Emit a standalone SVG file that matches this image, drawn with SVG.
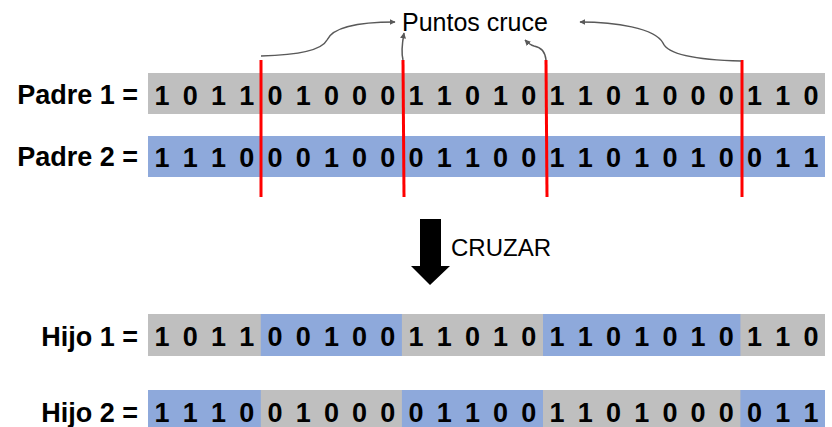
<svg xmlns="http://www.w3.org/2000/svg" width="832" height="427" viewBox="0 0 832 427">
<style>
.lbl{font-family:"Liberation Sans",Arial,sans-serif;font-weight:bold;font-size:27px;fill:#000;text-anchor:end}
.dig{font-family:"Liberation Sans",Arial,sans-serif;font-weight:bold;font-size:27px;fill:#000;text-anchor:middle}
.g{fill:#BFBFBF}
.b{fill:#8EA9DB}
.red{stroke:#FF0000;stroke-width:3}
.cur{fill:none;stroke:#595959;stroke-width:1.5}
.txt{font-family:"Liberation Sans",Arial,sans-serif;font-size:25px;fill:#000}
</style>
<defs>
<marker id="ah" viewBox="0 0 10 10" refX="9" refY="5" markerWidth="6" markerHeight="6" markerUnits="userSpaceOnUse" orient="auto">
<path d="M0,0 L10,5 L0,10 z" fill="#595959"/>
</marker>
</defs>
<rect width="832" height="427" fill="#fff"/>

<g id="padre1">
<rect class="g" x="148" y="73" width="677" height="41"/>
<text class="lbl" x="138" y="104">Padre 1 =</text>
<text class="dig" y="105" x="162.1 190.3 218.5 246.7 274.9 303.2 331.4 359.6 387.8 416.0 444.2 472.4 500.6 528.8 557.0 585.3 613.5 641.7 669.9 698.1 726.3 754.5 782.7 810.9">101101000110101101000110</text>
</g>

<g id="padre2">
<rect class="b" x="148" y="136" width="677" height="41"/>
<text class="lbl" x="138" y="166">Padre 2 =</text>
<text class="dig" y="167" x="162.1 190.3 218.5 246.7 274.9 303.2 331.4 359.6 387.8 416.0 444.2 472.4 500.6 528.8 557.0 585.3 613.5 641.7 669.9 698.1 726.3 754.5 782.7 810.9">111000100011001101010011</text>
</g>

<g id="hijo1">
<rect class="g" x="148" y="314" width="677" height="42"/>
<rect class="b" x="260.8" y="314" width="141.1" height="42"/>
<rect class="b" x="543" y="314" width="197.4" height="42"/>
<text class="lbl" x="138" y="346">Hijo 1 =</text>
<text class="dig" y="346" x="162.1 190.3 218.5 246.7 274.9 303.2 331.4 359.6 387.8 416.0 444.2 472.4 500.6 528.8 557.0 585.3 613.5 641.7 669.9 698.1 726.3 754.5 782.7 810.9">101100100110101101010110</text>
</g>

<g id="hijo2">
<rect class="b" x="148" y="390" width="677" height="42"/>
<rect class="g" x="260.8" y="390" width="141.1" height="42"/>
<rect class="g" x="543" y="390" width="197.4" height="42"/>
<text class="lbl" x="138" y="422">Hijo 2 =</text>
<text class="dig" y="422" x="162.1 190.3 218.5 246.7 274.9 303.2 331.4 359.6 387.8 416.0 444.2 472.4 500.6 528.8 557.0 585.3 613.5 641.7 669.9 698.1 726.3 754.5 782.7 810.9">111001000011001101000011</text>
</g>

<g id="puntos">
<text class="txt" x="402" y="31">Puntos cruce</text>
</g>

<g id="cruzar">
<polygon points="420,219 441,219 441,266 450,266 430,285 411,266 420,266" fill="#000"/>
<text class="txt" x="451" y="256" style="font-size:24px">CRUZAR</text>
</g>

<g id="connectors">
<line class="red" x1="261" y1="60" x2="261" y2="197"/>
<line class="red" x1="403" y1="60" x2="404" y2="197"/>
<line class="red" x1="546" y1="60" x2="547" y2="197"/>
<line class="red" x1="742" y1="60" x2="742" y2="197"/>
<path class="cur" marker-end="url(#ah)" d="M261,56 C300,55 322,50 327,40 C333,27 360,22 395,22"/>
<path class="cur" marker-end="url(#ah)" d="M403,60 C401,52 402,44 404,33"/>
<path class="cur" marker-end="url(#ah)" d="M546,60 C545,50 540,47 534,46 C530,45 528,43 525,40"/>
<path class="cur" marker-end="url(#ah)" d="M741,61 C700,60 668,55 663,43 C655,28 615,22 580,22"/>
</g>
</svg>
